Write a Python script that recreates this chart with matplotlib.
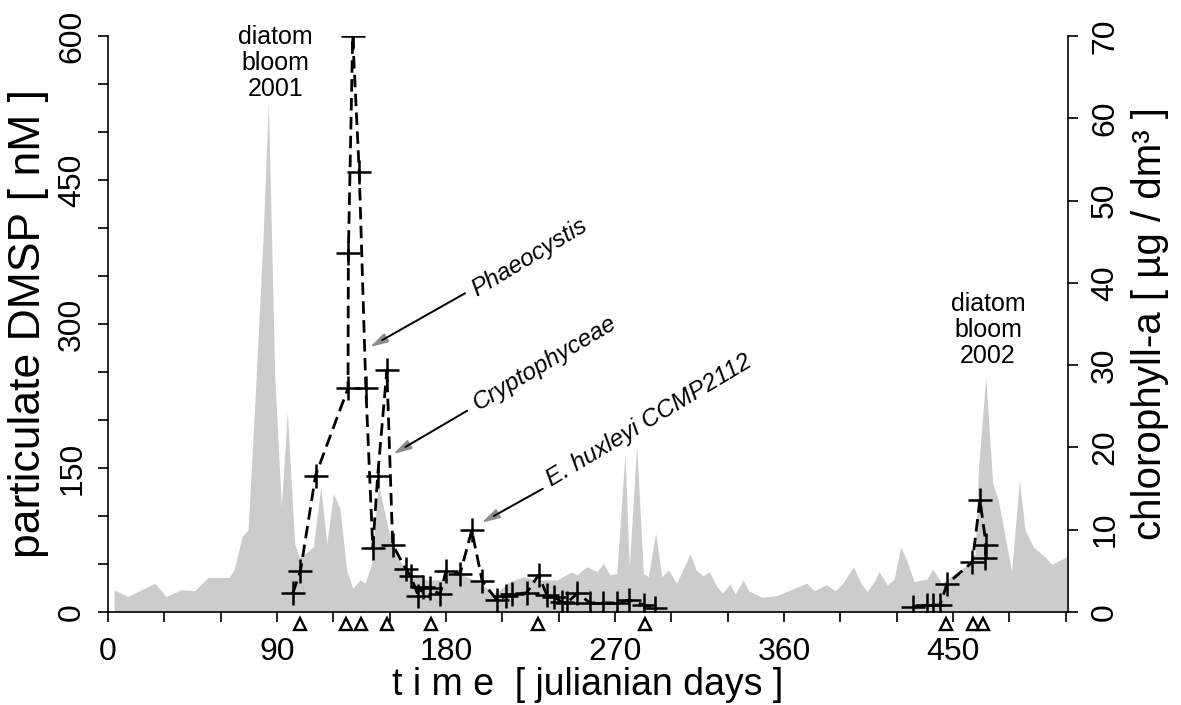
import matplotlib
matplotlib.use('Agg')
import matplotlib.pyplot as plt

plt.rcParams['font.family'] = ['Liberation Sans', 'DejaVu Sans']

# chlorophyll-a (grey area), day / ug per dm3
chl_day = [3.2, 10.6, 24.9, 31.0, 39.0, 46.2, 53.3, 64.3, 67.1, 71.5, 74.6, 78.1, 82.5,
           85.4, 88.8, 92.3, 95.5, 99.4, 102.0, 109.3, 113.3, 116.5, 120.0, 123.5, 127.1,
           130.3, 134.2, 136.9, 140.4, 144.0, 149.3, 153.7, 159.0, 164.4, 169.7, 176.8,
           180.4, 183.9, 191.0, 198.0, 205.2, 208.8, 214.0, 221.2, 228.3, 239.0, 247.0,
           249.6, 254.9, 260.3, 263.8, 267.3, 270.9, 275.3, 277.6, 281.5, 285.1, 287.7,
           291.6, 294.9, 298.4, 302.8, 310.0, 313.1, 317.0, 320.2, 324.1, 327.3, 331.2,
           333.9, 338.3, 341.0, 348.1, 356.1, 372.1, 376.1, 382.7, 387.1, 390.7, 396.9,
           401.4, 404.4, 408.5, 410.6, 415.0, 418.6, 422.1, 425.3, 429.2, 436.0, 439.2,
           444.0, 452.0, 456.4, 461.7, 463.5, 467.4, 471.1, 474.1, 481.2, 485.3, 488.3,
           492.8, 499.0, 502.5, 510.5]
chl_val = [2.7, 1.9, 3.5, 1.9, 2.7, 2.6, 4.2, 4.2, 5.1, 9.2, 10.0, 24.9, 45.2,
           62.0, 28.6, 12.8, 24.3, 8.3, 6.6, 7.9, 15.2, 8.3, 14.4, 12.6, 5.1,
           2.9, 3.9, 3.5, 5.9, 15.6, 10.0, 6.7, 5.1, 4.3, 3.9, 3.9,
           4.3, 4.9, 4.3, 3.5, 2.3, 2.7, 3.7, 4.3, 3.9, 3.9, 4.9,
           4.5, 5.5, 4.9, 5.9, 4.5, 4.7, 19.3, 5.5, 20.3, 4.7, 4.3,
           9.6, 4.3, 5.1, 3.5, 7.1, 5.1, 4.4, 4.9, 3.1, 2.3, 3.4,
           2.2, 3.9, 2.6, 1.8, 2.0, 3.5, 2.6, 3.3, 2.6, 3.3, 5.5,
           3.3, 2.5, 3.9, 4.9, 3.3, 4.0, 7.9, 6.3, 3.7, 4.0, 5.2,
           3.5, 4.9, 5.5, 7.1, 17.3, 28.6, 15.6, 13.6, 4.9, 16.0, 10.0,
           7.9, 6.7, 5.8, 6.7]

# particulate DMSP 2001, day / nM (in sampling order)
dmsp_day_2001 = [98.4, 102.5, 110.5, 127.8, 128.0, 130.3, 133.8, 137.3, 141.0, 143.6, 148.5,
                 151.6, 158.5, 161.2, 165.2, 168.0, 171.5, 176.8, 180.0, 187.5, 193.7, 199.3,
                 207.0, 212.1, 215.0, 223.0, 229.3, 233.6, 237.6, 241.8, 244.3, 250.0, 256.7,
                 263.8, 270.9, 277.6, 285.5, 291.3]
dmsp_val_2001 = [19.5, 43, 142, 233, 374, 600, 458, 233, 67, 142, 252,
                 70, 45, 37.5, 17, 26, 25, 18.5, 43, 40, 85, 32,
                 12.5, 16.5, 18.5, 20, 38.5, 18, 16, 10, 9.5, 19.5, 9.5,
                 9.5, 9.5, 12.5, 7.3, 4.5]
# particulate DMSP 2002
dmsp_day_2002 = [428.9, 436.0, 439.5, 443.1, 446.7, 460.3, 464.3, 467.6, 467.1]
dmsp_val_2002 = [5, 7.3, 7.3, 7.3, 29, 52, 117, 70, 56]

# days marked with triangles under the axis
mark_days = [102, 127, 134.7, 148.4, 171.8, 229, 286, 446, 460.8, 465.8]

fig = plt.figure(figsize=(11.81, 7.05), dpi=100)
ax = fig.add_axes([0.09145, 0.13191, 0.81287, 0.81702])
ax2 = ax.twinx()
ax.set_zorder(ax2.get_zorder() + 1)
ax.patch.set_visible(False)

ax2.fill_between(chl_day, chl_val, 0, color='#cccccc', lw=0)
ax2.set_ylim(0, 70)
ax2.set_yticks(range(0, 71, 10))

for d, v in [(dmsp_day_2001, dmsp_val_2001), (dmsp_day_2002, dmsp_val_2002)]:
    ax.plot(d, v, color='black', lw=2.0, dashes=(4.5, 2.3),
            marker='+', ms=17, mew=1.8)
ax.plot(mark_days, [-0.021] * len(mark_days), ls='none', marker='^', ms=8.5,
        mfc='white', mec='black', mew=1.7, clip_on=False,
        transform=ax.get_xaxis_transform())

ax.set_xlim(0, 511.2)
ax.set_ylim(0, 600)
ax.set_xticks(range(0, 451, 90))
ax.set_xticks(range(0, 511, 30), minor=True)
ax.set_yticks(range(0, 601, 150))
ax.set_yticks(range(0, 601, 50), minor=True)

for a in (ax, ax2):
    a.spines['top'].set_visible(False)
    for s in a.spines.values():
        s.set_linewidth(1.2)
ax.spines['right'].set_visible(False)
ax2.spines['left'].set_visible(False)
ax2.spines['bottom'].set_visible(False)

ax.tick_params(which='both', direction='out', length=7, width=1.2, labelsize=23)
ax.tick_params(axis='x', which='both', pad=11)
ax.tick_params(axis='y', which='both', labelrotation=90, pad=8)
for t in ax.get_yticklabels():
    t.set_va('center')
ax2.tick_params(direction='out', length=7, width=1.2, labelsize=23, labelrotation=90, pad=9)
for t in ax2.get_yticklabels():
    t.set_va('center')

ax.set_xlabel('t i m e  [ julianian days ]', fontsize=27, labelpad=0)
ax.set_ylabel('particulate DMSP [ nM ]', fontsize=32, labelpad=6)
ax2.set_ylabel('chlorophyll-a [ µg / dm³ ]', fontsize=29, labelpad=8)

ax.text(89, 572, 'diatom\nbloom\n2001', ha='center', va='center', fontsize=18, linespacing=1.1)
ax.text(468.6, 294, 'diatom\nbloom\n2002', ha='center', va='center', fontsize=18, linespacing=1.1)

# labels with arrows: (text start, arrow tail, arrow head)
notes = [('Phaeocystis', (196.3, 328), (190.1, 332), (139.5, 276)),
         ('Cryptophyceae', (197.0, 210), (191.3, 209.7), (152.0, 164.6)),
         ('E. huxleyi CCMP2112', (236.3, 130.5), (231.5, 128.4), (199.0, 93))]
for label, pos, tail, head in notes:
    ax.text(pos[0], pos[1], label, style='italic', fontsize=17.5, rotation=31,
            rotation_mode='anchor', ha='left', va='baseline')
    ax.annotate('', xy=head, xytext=tail,
                arrowprops=dict(arrowstyle='-|>,head_length=1.1,head_width=0.3',
                                color='#8c8c8c', lw=1.3, shrinkA=0, shrinkB=0))
    ax.annotate('', xy=head, xytext=tail,
                arrowprops=dict(arrowstyle='-', color='black', lw=1.3,
                                shrinkA=0, shrinkB=10))

fig.savefig('out.png', dpi=100)
